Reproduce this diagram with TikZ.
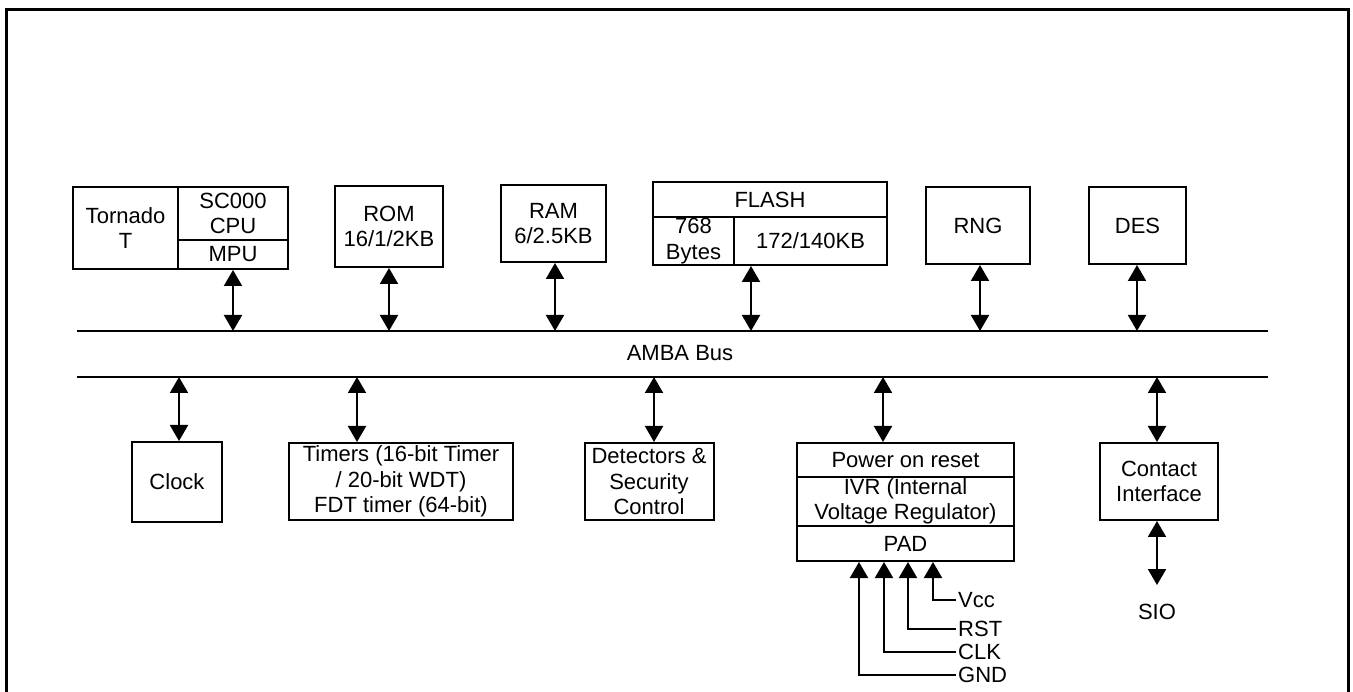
\documentclass[tikz,border=0pt]{standalone}
\usepackage{fontspec}
\setmainfont{Liberation Sans}
\usetikzlibrary{arrows.meta}
\usetikzlibrary{positioning}

\begin{document}
\begin{tikzpicture}[
    x=1pt, y=-1pt,
    % styles
    blk/.style={draw, line width=2pt, align=center, inner sep=0pt,
      font=\fontsize{22}{25.5}\selectfont},
    busline/.style={line width=2pt},
    link/.style={line width=2pt,
      {Triangle[width=18pt,length=16pt]}-{Triangle[width=18pt,length=16pt]}},
    pinline/.style={line width=2pt, -{Triangle[width=18pt,length=16pt]}},
    lbl/.style={inner sep=2pt, font=\fontsize{22}{25.5}\selectfont}]

    \useasboundingbox (0,0) rectangle (1353,692);

    % frame
    \draw [line width=3pt] (6,692) -- (6,10) -- (1348,10) -- (1348,692);

    % bus
    \coordinate (busA) at (77,331);
    \coordinate (busB) at (1268,331);
    \coordinate (busC) at (77,377);
    \coordinate (busD) at (1268,377);
    \draw [busline] (busA) -- (busB);
    \draw [busline] (busC) -- (busD);
    \node [lbl] (amba) at (680,353) {AMBA Bus};

    % upper blocks
    \node [blk, minimum width=105pt, minimum height=82pt]
      (tornado) at (125.5,228) {Tornado\\T};
    \node [blk, minimum width=110pt, minimum height=53pt]
      (cpu) at (233,213.5) {SC000\\CPU};
    \node [blk, minimum width=110pt, minimum height=29pt]
      (mpu) at (233,254.5) {MPU};
    \node [blk, minimum width=108pt, minimum height=81pt]
      (rom) at (389,226.5) {ROM\\16/1/2KB};
    \node [blk, minimum width=105pt, minimum height=77pt]
      (ram) at (553.5,223.5) {RAM\\6/2.5KB};
    \node [blk, minimum width=234pt, minimum height=35pt]
      (flash) at (770,199.5) {FLASH};
    \node [blk, minimum width=81pt, minimum height=48pt]
      (flashbytes) at (693.5,241) {768\\Bytes};
    \node [blk, minimum width=153pt, minimum height=48pt]
      (flashkb) at (810.5,241) {172/140KB};
    \node [blk, minimum width=104pt, minimum height=77pt]
      (rng) at (978,225.5) {RNG};
    \node [blk, minimum width=97pt, minimum height=77pt]
      (des) at (1137.5,225.5) {DES};

    % lower blocks
    \node [blk, minimum width=90pt, minimum height=80pt]
      (clock) at (177,482) {Clock};
    \node [blk, minimum width=224pt, minimum height=77pt]
      (timers) at (401,481.5) {Timers (16-bit Timer\\/ 20-bit WDT)\\FDT timer (64-bit)};
    \node [blk, minimum width=129pt, minimum height=77pt]
      (detect) at (649,481.5) {Detectors \&\\Security\\Control};
    \node [blk, minimum width=217pt, minimum height=34pt]
      (por) at (905.5,460) {Power on reset};
    \node [blk, minimum width=217pt, minimum height=49pt]
      (ivr) at (905.5,501.5) {IVR (Internal\\Voltage Regulator)};
    \node [blk, minimum width=217pt, minimum height=35pt]
      (pad) at (905.5,543.5) {PAD};
    \node [blk, minimum width=118pt, minimum height=77pt]
      (contact) at (1159,481.5) {Contact\\Interface};
    \node [lbl] (sio) at (1157,612) {SIO};

    % links to the bus
    \foreach \blk/\ax in {mpu/233, rom/389, ram/555, flashkb/751, rng/980, des/1137} {
      \coordinate (t\blk) at (\ax,0);
      \draw [link] (t\blk |- \blk.south) -- (t\blk |- busA);
    }
    \foreach \blk/\ax in {clock/179, timers/357, detect/654, por/883, contact/1157} {
      \coordinate (b\blk) at (\ax,0);
      \draw [link] (b\blk |- busC) -- (b\blk |- \blk.north);
    }
    \draw [link, shorten >=17pt] (bcontact |- contact.south) -- (sio.north);

    % pins
    \foreach \px/\py/\pname in {933/600/Vcc, 908/629/RST, 884/652/CLK, 859/675/GND} {
      \node [lbl, anchor=west] (pin\pname) at (956,\py) {\pname};
      \coordinate (px\pname) at (\px,0);
      \draw [pinline] (pin\pname.west) -| (px\pname |- pad.south);
    }

  \end{tikzpicture}
\end{document}
